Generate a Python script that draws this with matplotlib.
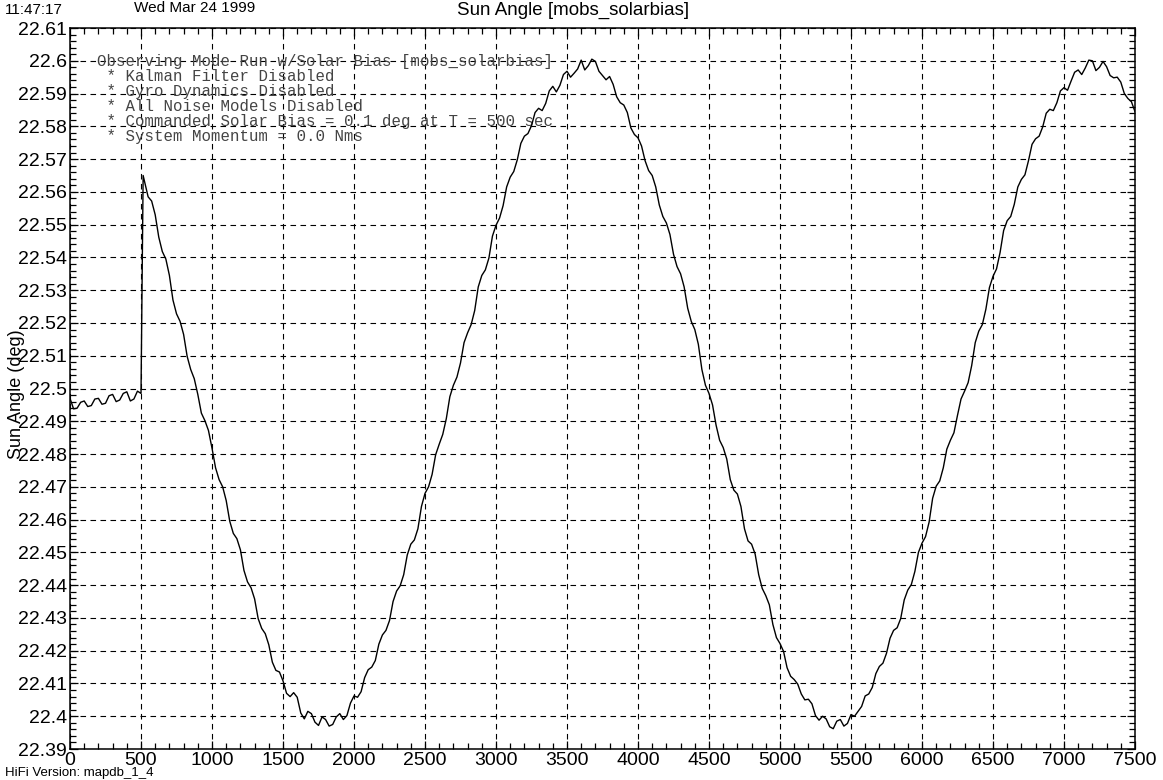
import numpy as np
import matplotlib
matplotlib.use("Agg")
import matplotlib.pyplot as plt
from matplotlib.ticker import MultipleLocator, FixedLocator

# sample times (s): every 50 s, plus the step right after the bias command
t_main = np.concatenate([np.arange(0, 501, 50), [515], np.arange(550, 7501, 50)])

# sun angle (deg) at t_main
sun_main = [
    22.4970, 22.4940, 22.4962, 22.4948, 22.4970, 22.4955, 22.4982, 22.4965, 22.4990, 22.4968,
    22.4985, 22.5650,
    22.5585, 22.5530, 22.5418, 22.5345, 22.5228, 22.5165, 22.5058, 22.4982, 22.4902, 22.4818,
    22.4722, 22.4658, 22.4558, 22.4508, 22.4410, 22.4358, 22.4268, 22.4218, 22.4140, 22.4108,
    22.4060, 22.4058, 22.3992, 22.4008, 22.3972, 22.3990, 22.3975, 22.4008, 22.4002, 22.4062,
    22.4075, 22.4142, 22.4170, 22.4248, 22.4292, 22.4382, 22.4432, 22.4525, 22.4572, 22.4680,
    22.4738, 22.4830, 22.4908, 22.5010, 22.5078, 22.5170, 22.5238, 22.5345, 22.5398, 22.5498,
    22.5558, 22.5645, 22.5698, 22.5770, 22.5802, 22.5855, 22.5870, 22.5922, 22.5925, 22.5968,
    22.5962, 22.6002, 22.5985, 22.5998, 22.5955, 22.5952, 22.5890, 22.5865, 22.5795, 22.5765,
    22.5695, 22.5650, 22.5560, 22.5505, 22.5410, 22.5350, 22.5245, 22.5180, 22.5058, 22.4985,
    22.4888, 22.4820, 22.4722, 22.4678, 22.4572, 22.4525, 22.4432, 22.4368, 22.4280, 22.4222,
    22.4148, 22.4112, 22.4068, 22.4052, 22.4002, 22.4000, 22.3968, 22.3985, 22.3970, 22.4005,
    22.4015, 22.4062, 22.4088, 22.4152, 22.4192, 22.4262, 22.4298, 22.4385, 22.4442, 22.4528,
    22.4592, 22.4702, 22.4758, 22.4842, 22.4918, 22.4992, 22.5070, 22.5175, 22.5242, 22.5342,
    22.5415, 22.5512, 22.5562, 22.5638, 22.5695, 22.5762, 22.5798, 22.5852, 22.5872, 22.5918,
    22.5938, 22.5972, 22.5978, 22.6000, 22.5980, 22.5982, 22.5948, 22.5935, 22.5885, 22.5845,
]

# in-between readings (the fast jitter), t = 25..475 and 575..7475
t_mid = np.concatenate([np.arange(25, 476, 50), np.arange(575, 7476, 50)])
sun_mid = [
    22.4938, 22.4958, 22.4945, 22.4968, 22.4952, 22.4978, 22.4960, 22.4985, 22.4962, 22.4992,
    22.5572, 22.5462, 22.5395, 22.5270, 22.5205, 22.5098, 22.5030, 22.4925, 22.4872, 22.4758,
    22.4700, 22.4595, 22.4542, 22.4445, 22.4392, 22.4298, 22.4252, 22.4165, 22.4135, 22.4070,
    22.4072, 22.4010, 22.4015, 22.3982, 22.3998, 22.3970, 22.3998, 22.3990, 22.4040, 22.4058,
    22.4118, 22.4150, 22.4220, 22.4262, 22.4350, 22.4398, 22.4492, 22.4538, 22.4640, 22.4700,
    22.4798, 22.4860, 22.4975, 22.5035, 22.5140, 22.5195, 22.5310, 22.5362, 22.5465, 22.5520,
    22.5615, 22.5662, 22.5748, 22.5778, 22.5842, 22.5848, 22.5908, 22.5905, 22.5958, 22.5950,
    22.5975, 22.5972, 22.6005, 22.5968, 22.5942, 22.5928, 22.5872, 22.5842, 22.5775, 22.5740,
    22.5665, 22.5615, 22.5525, 22.5470, 22.5372, 22.5310, 22.5205, 22.5135, 22.5010, 22.4950,
    22.4842, 22.4785, 22.4690, 22.4640, 22.4535, 22.4495, 22.4390, 22.4340, 22.4240, 22.4198,
    22.4122, 22.4098, 22.4050, 22.4038, 22.3988, 22.3992, 22.3962, 22.3990, 22.3978, 22.4000,
    22.4030, 22.4068, 22.4130, 22.4162, 22.4238, 22.4270, 22.4355, 22.4402, 22.4500, 22.4548,
    22.4665, 22.4718, 22.4815, 22.4865, 22.4968, 22.5018, 22.5140, 22.5195, 22.5308, 22.5365,
    22.5482, 22.5525, 22.5615, 22.5652, 22.5745, 22.5770, 22.5840, 22.5848, 22.5908, 22.5910,
    22.5965, 22.5958, 22.6002, 22.5970, 22.5998, 22.5955, 22.5950, 22.5900, 22.5875,
]

x_ticks = list(range(0, 7501, 500))
y_ticks = [round(22.39 + 0.01 * i, 2) for i in range(23)]
y_tick_labels = [f"{v:g}" for v in y_ticks]

notes = [
    "Observing Mode Run w/Solar Bias [mobs_solarbias]",
    " * Kalman Filter Disabled",
    " * Gyro Dynamics Disabled",
    " * All Noise Models Disabled",
    " * Commanded Solar Bias = 0.1 deg at T = 500 sec",
    " * System Momentum = 0.0 Nms",
]

t_all = np.concatenate([t_main, t_mid])
v_all = np.concatenate([sun_main, sun_mid])
order = np.argsort(t_all, kind='stable')
t_all, v_all = t_all[order], v_all[order]

plt.rcParams['font.family'] = ['Liberation Sans', 'DejaVu Sans']

fig = plt.figure(figsize=(11.63, 7.80), dpi=100)
ax = fig.add_axes([0.0602, 0.0397, 0.9157, 0.9244])

ax.plot(t_all, v_all, color='black', lw=1.0, zorder=3)

ax.set_xlim(0, 7500)
ax.set_ylim(22.39, 22.61)
ax.xaxis.set_major_locator(FixedLocator(x_ticks))
ax.xaxis.set_minor_locator(MultipleLocator(100))
ax.yaxis.set_major_locator(FixedLocator(y_ticks))
ax.yaxis.set_minor_locator(MultipleLocator(0.002))
ax.set_yticklabels(y_tick_labels)

ax.grid(True, which='major', color='black', lw=0.8, linestyle=(0, (5, 4)))
ax.tick_params(which='both', direction='in', top=True, right=True, labelsize=14, pad=2, width=0.9)
ax.tick_params(which='major', length=6)
ax.tick_params(which='minor', length=4)
for s in ax.spines.values():
    s.set_linewidth(1.1)

for i, line in enumerate(notes):
    ax.text(0.0254, 0.9533 - i * 0.0208, line, transform=ax.transAxes,
            family='Liberation Mono', fontsize=11.3, color='#444444',
            ha='left', va='center', zorder=2)

fig.text(0.4927, 0.987, "Sun Angle [mobs_solarbias]", ha='center', va='center', fontsize=13.5)
fig.text(0.115, 0.990, "Wed Mar 24 1999", ha='left', va='center', fontsize=11)
fig.text(0.004, 0.987, "11:47:17", ha='left', va='center', fontsize=11)
fig.text(0.004, 0.009, "HiFi Version: mapdb_1_4", ha='left', va='center', fontsize=9.5)
fig.text(0.0146, 0.494, "Sun Angle (deg)", rotation=90, ha='center', va='center', fontsize=13)

fig.savefig("out.png", dpi=100)
